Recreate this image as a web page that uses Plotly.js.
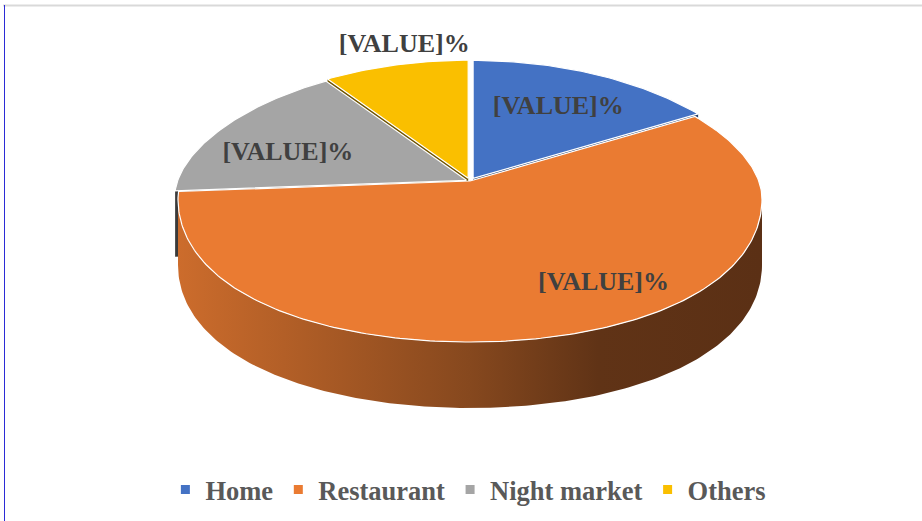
<!DOCTYPE html>
<html>
<head>
<meta charset="utf-8">
<script src="https://cdn.plot.ly/plotly-3.0.1.min.js"></script>
<style>
  html, body { margin: 0; padding: 0; background: #ffffff; }
  #chart { width: 922px; height: 521px; }
</style>
</head>
<body>
<div id="chart"></div>
<script>
// ---- data ----
const categories = ['Home', 'Restaurant', 'Night market', 'Others'];
const values = [14, 62, 16, 8];
const labelTexts = ['[VALUE]%', '[VALUE]%', '[VALUE]%', '[VALUE]%'];

// ---- styles ----
const FONT = 'Liberation Serif';
const topColors = ['#4472C4', '#EA7B32', '#A5A5A5', '#FABF00'];
const wallColors = ['#263f6e', '#5e3214', '#3a3a3a', '#6f5300'];
const restaurantWallScale = [[0, '#cc6c2c'], [0.25, '#a95a25'], [0.5, '#86481e'], [0.72, '#603316'], [1, '#5b3015']];
// label placement tweaks (angle shift in degrees, radius fraction)
const labelAngleShift = [0, -19, -5.4, 3.4];
const labelRadius = [0.71, 0.76, 0.70, 1.18];
// per-slice explosion (fraction of radius)
const explode = [0.025, 0, 0.014, 0.025];

// ---- geometry (layout constants) ----
const CX = 470, CY = 181, RX = 292, RY_BACK = 118, RY_FRONT = 161, SIDE_SHIFT = 18, DEPTH = 66;
const DEG = Math.PI / 180;

function proj(thDeg, r) {
  const t = thDeg * DEG, s = Math.sin(t), c = Math.cos(t);
  const ry = c > 0 ? RY_BACK : RY_FRONT;
  return [CX + r * RX * s, CY - r * ry * c + r * SIDE_SHIFT * s * s];
}

const total = values.reduce((a, b) => a + b, 0);
const slices = [];
let acc = 0;
values.forEach((v, i) => {
  const a0 = acc / total * 360;
  acc += v;
  const a1 = acc / total * 360;
  const mid = (a0 + a1) / 2;
  const e = proj(mid, explode[i]);
  slices.push({ i, a0, a1, mid, ox: e[0] - CX, oy: e[1] - CY });
});

function arc(s, from, to, dy) {
  const xs = [], ys = [];
  const n = Math.max(2, Math.ceil(Math.abs(to - from)));
  for (let k = 0; k <= n; k++) {
    const a = from + (to - from) * k / n;
    const p = proj(a, 1);
    xs.push(p[0] + s.ox); ys.push(p[1] + s.oy + dy);
  }
  return [xs, ys];
}

const traces = [];

// radial walls (cut faces)
slices.forEach(s => {
  [s.a0, s.a1].forEach(a => {
    const p = proj(a, 1);
    const ax = CX + s.ox, ay = CY + s.oy;
    const px = p[0] + s.ox, py = p[1] + s.oy;
    traces.push({
      type: 'scatter', mode: 'lines',
      x: [ax, px, px, ax, ax], y: [ay, py, py + DEPTH, ay + DEPTH, ay],
      fill: 'toself', line: { width: 0 }, fillcolor: wallColors[s.i],
      hoverinfo: 'skip', showlegend: false
    });
  });
});

// outer walls (visible front part: 90..270 deg)
slices.forEach(s => {
  const lo = Math.max(s.a0, 90), hi = Math.min(s.a1, 270);
  if (hi <= lo) return;
  const [tx, ty] = arc(s, lo, hi, 0);
  const [bx, by] = arc(s, hi, lo, DEPTH);
  const tr = {
    type: 'scatter', mode: 'lines', x: tx.concat(bx), y: ty.concat(by),
    fill: 'toself', line: { width: 0 }, fillcolor: wallColors[s.i],
    hoverinfo: 'skip', showlegend: false
  };
  if (s.i === 1) {
    tr.fillgradient = { type: 'horizontal', colorscale: restaurantWallScale };
  }
  traces.push(tr);
});

// top faces
slices.forEach(s => {
  const [xs, ys] = arc(s, s.a0, s.a1, 0);
  const ax = CX + s.ox, ay = CY + s.oy;
  traces.push({
    type: 'scatter', mode: 'lines',
    x: [ax].concat(xs, [ax]), y: [ay].concat(ys, [ay]),
    fill: 'toself', fillcolor: topColors[s.i],
    line: { color: '#ffffff', width: 1.2 },
    hoverinfo: 'skip', showlegend: false
  });
});

// data labels
const lx = [], ly = [];
slices.forEach(s => {
  const p = proj(s.mid + labelAngleShift[s.i], labelRadius[s.i]);
  lx.push(p[0]); ly.push(p[1]);
});
traces.push({
  type: 'scatter', mode: 'text', x: lx, y: ly, text: labelTexts,
  textposition: 'middle center',
  textfont: { family: FONT, size: 26, color: '#404040', weight: 'bold' },
  hoverinfo: 'skip', showlegend: false
});

// legend entries
categories.forEach((c, i) => {
  traces.push({
    type: 'scatter', mode: 'markers', x: [null], y: [null], name: c,
    marker: { symbol: 'square', size: 9, color: topColors[i] },
    showlegend: true
  });
});

const layout = {
  width: 922, height: 521,
  margin: { l: 0, r: 0, t: 0, b: 0 },
  paper_bgcolor: '#ffffff', plot_bgcolor: '#ffffff',
  xaxis: { range: [0, 922], visible: false, fixedrange: true },
  yaxis: { range: [521, 0], visible: false, fixedrange: true },
  showlegend: true,
  legend: {
    orientation: 'h', x: 0.508, xanchor: 'center', y: 0.06, yanchor: 'middle',
    font: { family: FONT, size: 26.5, color: '#595959', weight: 'bold' },
    itemclick: false, itemdoubleclick: false, bgcolor: 'rgba(0,0,0,0)'
  },
  shapes: [
    { type: 'line', xref: 'x', yref: 'y', x0: 3, x1: 922, y0: 5.5, y1: 5.5, line: { color: '#d9d9d9', width: 2 } },
    { type: 'line', xref: 'x', yref: 'y', x0: 4.5, x1: 4.5, y0: 5, y1: 521, line: { color: '#2b2bd6', width: 1 } }
  ]
};

Plotly.newPlot('chart', traces, layout, { staticPlot: true, displayModeBar: false });
</script>
</body>
</html>
